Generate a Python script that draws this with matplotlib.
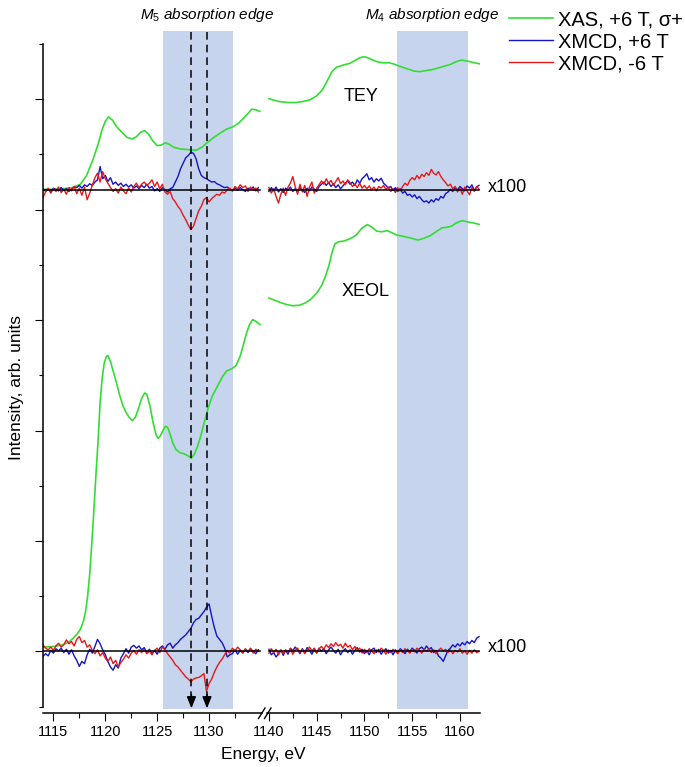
import matplotlib
matplotlib.use('Agg')
import matplotlib.pyplot as plt
import numpy as np
from matplotlib.lines import Line2D

plt.rcParams['font.family'] = ['Liberation Sans', 'DejaVu Sans']
plt.rcParams['mathtext.fontset'] = 'custom'
plt.rcParams['mathtext.it'] = 'Liberation Sans:italic'
plt.rcParams['mathtext.rm'] = 'Liberation Sans'

# energy grids of the two axis segments (eV)
e_left = np.arange(1114.0, 1134.76, 0.25)
e_right = np.arange(1140.0, 1162.01, 0.25)

# baselines of the two XMCD traces
tey_zero = 8.36
xeol_zero = 0.0

# XAS, TEY
tey_xas_e_l = [1114.0, 1115.0, 1116.0, 1116.8, 1117.6, 1118.2, 1118.8, 1119.3, 1119.7, 1120.0,
               1120.3, 1120.7, 1121.1, 1121.6, 1122.1, 1122.6, 1123.0, 1123.4, 1123.8, 1124.2,
               1124.6, 1125.0, 1125.4, 1125.8, 1126.2, 1126.6, 1127.2, 1127.8, 1128.4, 1128.8,
               1129.3, 1129.8, 1130.4, 1131.1, 1131.7, 1132.3, 1132.8, 1133.3, 1133.8, 1134.1,
               1134.5, 1134.9]
tey_xas_y_l = [8.37, 8.37, 8.38, 8.40, 8.46, 8.62, 8.90, 9.18, 9.45, 9.60,
               9.68, 9.62, 9.50, 9.40, 9.31, 9.28, 9.32, 9.40, 9.43, 9.36,
               9.24, 9.16, 9.17, 9.21, 9.18, 9.13, 9.10, 9.09, 9.08, 9.08,
               9.13, 9.21, 9.30, 9.39, 9.46, 9.50, 9.56, 9.65, 9.75, 9.82,
               9.81, 9.78]
tey_xas_e_r = [1140.0, 1141.0, 1142.0, 1142.8, 1143.6, 1144.3, 1145.0, 1145.6, 1146.1, 1146.6,
               1147.1, 1147.8, 1148.5, 1149.0, 1149.5, 1150.0, 1150.5, 1151.0, 1151.5, 1152.0,
               1152.6, 1153.2, 1153.8, 1154.5, 1155.2, 1155.8, 1156.5, 1157.2, 1157.8, 1158.4,
               1159.0, 1159.6, 1160.2, 1160.8, 1161.5, 1162.1]
tey_xas_y_r = [10.01, 9.96, 9.94, 9.94, 9.96, 9.99, 10.06, 10.17, 10.33, 10.50,
               10.58, 10.62, 10.65, 10.70, 10.75, 10.77, 10.74, 10.70, 10.67, 10.66,
               10.66, 10.63, 10.59, 10.55, 10.51, 10.50, 10.52, 10.54, 10.57, 10.60,
               10.63, 10.68, 10.71, 10.69, 10.66, 10.64]

# XAS, XEOL
xeol_xas_e_l = [1114.0, 1115.0, 1115.9, 1116.5, 1116.9, 1117.3, 1117.6, 1117.9, 1118.1, 1118.3,
                1118.5, 1118.7, 1118.9, 1119.1, 1119.3, 1119.5, 1119.7, 1119.9, 1120.1, 1120.25,
                1120.5, 1120.8, 1121.1, 1121.4, 1121.7, 1122.0, 1122.3, 1122.6, 1122.9, 1123.2,
                1123.5, 1123.8, 1124.0, 1124.3, 1124.6, 1124.9, 1125.1, 1125.3, 1125.5, 1125.8,
                1126.0, 1126.2, 1126.5, 1126.8, 1127.2, 1127.6, 1128.0, 1128.3, 1128.6, 1128.9,
                1129.2, 1129.5, 1129.9, 1130.3, 1130.8, 1131.3, 1131.7, 1132.2, 1132.6, 1133.0,
                1133.3, 1133.6, 1133.9, 1134.2, 1134.5, 1134.9]
xeol_xas_y_l = [0.08, 0.09, 0.12, 0.17, 0.24, 0.32, 0.40, 0.55, 0.72, 1.00,
                1.40, 1.95, 2.55, 3.20, 3.80, 4.50, 4.95, 5.22, 5.34, 5.36,
                5.25, 5.05, 4.85, 4.63, 4.45, 4.33, 4.24, 4.18, 4.24, 4.40,
                4.58, 4.68, 4.66, 4.45, 4.15, 3.92, 3.86, 3.90, 3.98, 4.08,
                4.06, 3.96, 3.78, 3.66, 3.60, 3.58, 3.54, 3.50, 3.58, 3.72,
                3.90, 4.12, 4.40, 4.62, 4.80, 4.98, 5.08, 5.12, 5.18, 5.35,
                5.55, 5.76, 5.92, 6.01, 5.98, 5.92]
xeol_xas_e_r = [1140.0, 1140.6, 1141.2, 1141.9, 1142.5, 1143.2, 1143.8, 1144.4, 1145.0, 1145.5,
                1145.9, 1146.3, 1146.6, 1146.9, 1147.3, 1147.8, 1148.3, 1148.8, 1149.2, 1149.7,
                1150.3, 1150.8, 1151.3, 1151.8, 1152.4, 1152.9, 1153.4, 1154.0, 1154.5, 1155.0,
                1155.6, 1156.2, 1156.9, 1157.5, 1158.1, 1158.6, 1159.1, 1159.6, 1160.2, 1160.8,
                1161.4, 1162.1]
xeol_xas_y_r = [6.40, 6.36, 6.32, 6.28, 6.26, 6.27, 6.31, 6.38, 6.49, 6.62,
                6.78, 7.00, 7.22, 7.38, 7.42, 7.43, 7.46, 7.50, 7.55, 7.66,
                7.73, 7.68, 7.61, 7.60, 7.62, 7.58, 7.54, 7.52, 7.50, 7.48,
                7.45, 7.48, 7.53, 7.60, 7.67, 7.68, 7.70, 7.76, 7.80, 7.78,
                7.76, 7.73]

# XMCD (x100), in hundredths of a unit, on e_left / e_right
tey_blue_l = [2, -3, 1, -4, 3, 0, -2, 4, -1, 2, -3, 1,
              5, 4, 8, 3, 9, 6, 11, 8, 14, 18, 42, 20,
              26, 15, 22, 10, 14, 8, 12, 6, 10, 5, 9, 3,
              7, 2, 8, 4, 10, 3, 6, -2, 2, -3, 4, 0,
              -4, 2, 4, 14, 24, 38, 48, 58, 62, 68, 66, 56,
              38, 26, 22, 20, 17, 14, 15, 11, 9, 6, 4, 5,
              1, -2, 3, -1, 4, 0, -3, 3, 1, 5, -2, 4]
tey_red_l = [-14, -4, 3, -6, 2, -3, 5, -5, 1, -8, 4, -2,
             6, -7, 3, -10, 5, -18, -6, 8, 22, 30, 14, 33,
             20, 12, 4, -3, 2, -6, 5, -2, -7, 3, -4, 6,
             12, 4, 10, 14, 8, 12, 18, 6, 14, 2, 10, -4,
             -8, -3, -16, -22, -30, -36, -46, -54, -64, -72, -66, -52,
             -38, -30, -18, -14, -22, -16, -12, -8, -10, -4, -6, 0,
             3, -2, 6, 2, 9, 4, 7, -3, 5, -1, 3, -4]
tey_blue_r = [-3, 4, -2, 5, -4, 2, -5, 3, -1, 5, -3, 2,
              -4, 4, 0, -5, 3, -2, 5, 1, -3, 6, 10, 14,
              8, 13, 6, 11, 4, 9, 2, 7, 12, 16, 10, 14,
              8, 18, 12, 20, 24, 29, 18, 22, 14, 20, 16, 21,
              12, 8, 3, 6, -1, 4, -3, 2, -6, -3, -10, -8,
              -13, -9, -16, -12, -18, -22, -20, -24, -18, -22, -16, -19,
              -12, -15, -7, -4, 1, -3, 4, 0, 6, 2, -2, 7,
              3, 9, -1, 5, 8]
tey_red_r = [4, -6, 2, -12, -24, -8, 3, -10, 5, 12, 24, 6,
             -8, 10, -4, 8, -12, 5, 14, -6, 3, 9, 16, 10,
             20, 12, 17, 8, 15, 22, 11, 16, 9, 18, 13, 6,
             10, 4, 12, 3, 8, 2, 7, 0, 5, -2, 6, 3,
             8, 1, 5, -3, 2, -5, 4, -2, 6, 12, 8, 17,
             22, 18, 26, 20, 28, 24, 31, 26, 37, 30, 27, 33,
             24, 18, 13, 7, 10, 2, 6, -4, 3, -8, 5, -2,
             -9, 4, -3, 6, 1]
xeol_blue_l = [-9, -4, -8, 2, -3, 5, 1, 6, -2, 4, -5, 3,
               -8, -16, -27, -18, -22, -6, 4, -3, 9, 22, 14, 3,
               -6, -18, -28, -34, -24, -30, -12, -4, 5, -3, 8, 11,
               6, 10, 3, 7, -2, 4, -4, 2, -5, 6, 10, 4,
               12, 15, 6, 12, 16, 22, 26, 30, 36, 42, 52, 58,
               60, 66, 72, 80, 86, 64, 44, 28, 22, 16, 6, -10,
               -6, -4, 3, -5, 2, -3, 4, -2, 5, 0, -4, 3]
xeol_red_l = [12, 6, 3, 8, 2, 10, 15, 8, 12, 21, 14, 18,
              10, 22, 27, 16, 20, 8, 12, 2, -4, 3, -8, -2,
              -12, -18, -10, -22, -16, -28, -20, -14, -6, -12, -3, 2,
              -5, 3, -2, 4, -4, 1, -6, 2, 6, -2, 8, 3,
              -4, -10, -16, -24, -28, -34, -40, -46, -50, -55, -50, -48,
              -47, -44, -40, -72, -58, -50, -38, -28, -20, -14, -6, 2,
              -3, 6, 1, 8, 3, -2, 5, 0, 6, -3, 4, 1]
xeol_blue_r = [4, -6, -2, -10, -4, 3, -7, 2, -5, 6, 1, 8,
               3, -4, 5, -2, 7, 2, -5, 4, -3, 6, 0, 5,
               -4, 3, 8, 2, -3, 4, -6, 1, 5, -2, 3, -5,
               2, 7, -1, 4, -4, 2, -6, 3, 6, -2, 4, -5,
               1, 5, -3, 2, -6, 3, -2, 5, 1, -4, 4, 0,
               6, 2, -3, 5, 8, 3, 10, 4, 7, -2, 2, -8,
               -12, -18, -8, 2, 6, 12, 8, 14, 10, 16, 12, 18,
               14, 20, 16, 24, 27]
xeol_red_r = [-3, 5, -2, 4, -6, 2, -4, 3, -1, 5, -5, 2,
              6, -2, 4, -4, 3, 8, 1, 6, -2, 5, 9, 4,
              12, 7, 14, 9, 16, 10, 13, 6, 15, 8, 11, 3,
              9, 2, 6, -3, 4, -2, 5, 1, -4, 3, -1, 6,
              2, -5, 3, -2, 4, 0, -4, 3, -2, 5, 1, -3,
              4, -1, 6, 2, -3, 4, 0, 5, -2, 3, -4, 2,
              6, 1, 4, -2, 3, -4, 2, -1, 5, -3, 1, -5,
              2, -3, 3, -2, 0]

m5_band = (1125.6, 1132.3)
m4_band = (1153.4, 1160.8)
m5_peaks = [1128.3, 1129.8]

c_green = '#33dd33'
c_blue = '#1414c8'
c_red = '#e81818'
c_band = '#c6d5ed'

W, H = 685, 767
fig = plt.figure(figsize=(W / 100, H / 100), dpi=100)
bot = (H - 706.7) / H
hgt = (706.7 - 44) / H
ax1 = fig.add_axes([43 / W, bot, (262 - 43) / W, hgt])
ax2 = fig.add_axes([267 / W, bot, (480 - 267) / W, hgt], sharey=ax1)
ax1.set_xlim(1114.0, 1135.1)
ax2.set_xlim(1139.8, 1162.1)
ax1.set_ylim(-1, 11)

for ax, band in [(ax1, m5_band), (ax2, m4_band)]:
    ax.axvspan(band[0], band[1], ymin=-0.0035, ymax=1.0196, color=c_band, lw=0,
               clip_on=False, zorder=0)

lw = 1.2
g1, = ax1.plot(tey_xas_e_l, tey_xas_y_l, color=c_green, lw=lw, zorder=2)
ax2.plot(tey_xas_e_r, tey_xas_y_r, color=c_green, lw=lw, zorder=2)
ax1.plot(xeol_xas_e_l, xeol_xas_y_l, color=c_green, lw=lw, zorder=2)
ax2.plot(xeol_xas_e_r, xeol_xas_y_r, color=c_green, lw=lw, zorder=2)

b1, = ax1.plot(e_left, tey_zero + np.array(tey_blue_l) / 100, color=c_blue, lw=1.0, zorder=2)
r1, = ax1.plot(e_left, tey_zero + np.array(tey_red_l) / 100, color=c_red, lw=1.0, zorder=2)
ax2.plot(e_right, tey_zero + np.array(tey_blue_r) / 100, color=c_blue, lw=1.0, zorder=2)
ax2.plot(e_right, tey_zero + np.array(tey_red_r) / 100, color=c_red, lw=1.0, zorder=2)
ax1.plot(e_left, xeol_zero + np.array(xeol_blue_l) / 100, color=c_blue, lw=1.0, zorder=2)
ax1.plot(e_left, xeol_zero + np.array(xeol_red_l) / 100, color=c_red, lw=1.0, zorder=2)
ax2.plot(e_right, xeol_zero + np.array(xeol_blue_r) / 100, color=c_blue, lw=1.0, zorder=2)
ax2.plot(e_right, xeol_zero + np.array(xeol_red_r) / 100, color=c_red, lw=1.0, zorder=2)

# zero lines of the XMCD traces
for zero in [tey_zero, xeol_zero]:
    ax1.plot([e_left[0], 1134.9], [zero, zero], color='k', lw=1.1, zorder=3)
    ax2.plot([e_right[0], e_right[-1]], [zero, zero], color='k', lw=1.1, zorder=3)

# dashed markers with arrows
for e in m5_peaks:
    ax1.plot([e, e], [11.22, -0.8], color='k', lw=1.1, dashes=(5, 3.3),
             clip_on=False, zorder=4)
    ax1.annotate('', xy=(e, -1.03), xytext=(e, -0.78),
                 arrowprops=dict(arrowstyle='-|>,head_length=0.7,head_width=0.28',
                                 color='k', lw=1.0, shrinkA=0, shrinkB=0),
                 annotation_clip=False, zorder=4)

# axes styling
for ax in (ax1, ax2):
    ax.spines['top'].set_visible(False)
    ax.spines['right'].set_visible(False)
    ax.spines['bottom'].set_position(('outward', 4.5))
    ax.spines['bottom'].set_linewidth(1.1)
    ax.tick_params(axis='x', which='major', direction='out', length=5.8, width=0.8,
                   labelsize=10.5, pad=3)
    ax.tick_params(axis='x', which='minor', direction='out', length=3.6, width=0.8)
ax1.spines['left'].set_linewidth(1.1)
ax2.spines['left'].set_visible(False)
ax2.tick_params(axis='y', which='both', left=False, labelleft=False)

ax1.set_xticks([1115, 1120, 1125, 1130])
ax1.set_xticks([1117.5, 1122.5, 1127.5, 1132.5], minor=True)
ax2.set_xticks([1140, 1145, 1150, 1155, 1160])
ax2.set_xticks([1142.5, 1147.5, 1152.5, 1157.5], minor=True)
ax1.set_yticks([0, 2, 4, 6, 8, 10])
ax1.set_yticks([-1, 1, 3, 5, 7, 9, 11], minor=True)
ax1.tick_params(axis='y', which='major', direction='out', length=5.8, width=0.8,
                labelleft=False)
ax1.tick_params(axis='y', which='minor', direction='out', length=2.9, width=0.8)

# axis break marks
for x0 in [258.5, 264.5]:
    fig.add_artist(Line2D([x0 / W, (x0 + 6.5) / W], [1 - 718.5 / H, 1 - 708 / H],
                          transform=fig.transFigure, color='k', lw=1.0))

fig.text(263 / W, 1 - 754 / H, 'Energy, eV', ha='center', va='center', fontsize=12.5)
fig.text(16.5 / W, 1 - 388 / H, 'Intensity, arb. units', ha='center', va='center',
         rotation=90, fontsize=12.5)

fig.text(207 / W, 1 - 15 / H, r'$\mathit{M_5}$ absorption edge', ha='center', va='center',
         fontsize=11, style='italic')
fig.text(432 / W, 1 - 15 / H, r'$\mathit{M_4}$ absorption edge', ha='center', va='center',
         fontsize=11, style='italic')
fig.text(488 / W, 1 - 188 / H, 'x100', ha='left', va='center', fontsize=13)
fig.text(488 / W, 1 - 648 / H, 'x100', ha='left', va='center', fontsize=13)
ax2.text(1149.6, 10.05, 'TEY', ha='center', va='center', fontsize=13)
ax2.text(1150.1, 6.51, 'XEOL', ha='center', va='center', fontsize=13)

fig.legend([g1, b1, r1], ['XAS, +6 T, \u03c3+', 'XMCD, +6 T', 'XMCD, -6 T'],
           loc='upper left', bbox_to_anchor=(509 / W, 1 - 10 / H), frameon=False,
           fontsize=14.5, handlelength=2.2, handletextpad=0.25, labelspacing=0.15,
           borderpad=0, borderaxespad=0)

fig.savefig('out.png', dpi=100)
